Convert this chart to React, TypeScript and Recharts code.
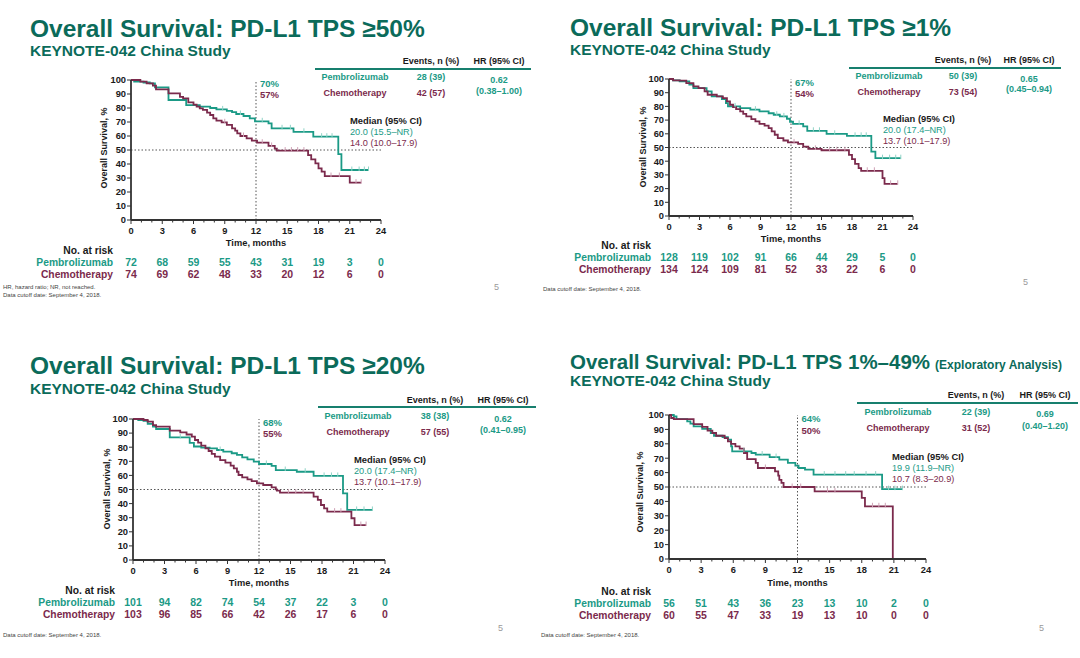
import React from 'react';
import { LineChart, Line, XAxis, YAxis, ReferenceLine } from 'recharts';

const FONT = '"Liberation Sans", Arial, sans-serif';
const TITLE = '#0b6b5a';
const TEAL = '#1b9a86';
const MAROON = '#7b2a4c';
const INK = '#1a1a1a';
const AXIS = '#333333';

// x ticks every month, labels on every third; y ticks every 10 %
const MONTHS = [0, 1, 2, 3, 4, 5, 6, 7, 8, 9, 10, 11, 12, 13, 14, 15, 16, 17, 18, 19, 20, 21, 22, 23, 24];
const SURV_TICKS = [0, 10, 20, 30, 40, 50, 60, 70, 80, 90, 100];

// KM curves: [month, survival %, censored?]
const pembro50 = [
  [0, 100], [0.3, 98.8], [1.2, 98.2], [1.8, 97.6], [2.3, 94.8], [3.6, 85.7], [5.3, 82], [6.6, 81], [7.6, 80],
  [8.2, 79], [8.8, 79, 1], [9.2, 78], [9.7, 77], [10.1, 75.7], [10.5, 75.7, 1], [10.8, 74.3], [11.4, 72.6],
  [11.9, 70.5], [12.6, 70.5, 1], [13.2, 69], [13.5, 65.5], [14.5, 65.5, 1], [15.3, 65.5, 1], [15.6, 63],
  [16.6, 63, 1], [17.5, 59.5], [18.3, 59.5, 1], [18.8, 59.5, 1], [19.3, 59.5, 1], [19.9, 47], [20.2, 35.7],
  [21.2, 35.7, 1], [21.9, 35.7, 1], [22.4, 35.7, 1], [22.8, 35.7, 1],
];
const chemo50 = [
  [0, 100], [0.9, 98.8], [1.5, 97.6], [2.1, 96], [2.4, 93.3], [3.6, 90.5], [4.7, 88], [5.0, 86.9], [5.5, 84],
  [6.0, 82.4], [6.3, 81], [6.6, 79.8], [6.9, 78.6], [7.3, 76.7], [7.6, 75], [7.9, 72.6], [8.2, 71], [8.7, 69.8],
  [9.0, 69.8, 1], [9.2, 67.9], [9.7, 65.5], [10.0, 63.8], [10.2, 61.9], [10.5, 60], [10.8, 60, 1], [11.1, 58.3],
  [11.6, 56.7], [12.1, 55.2], [12.6, 55.2, 1], [13.2, 52.9], [13.5, 52.9, 1], [13.8, 51], [14.0, 49.6],
  [14.8, 49.6, 1], [15.4, 49.6, 1], [16.0, 49.6, 1], [16.6, 49.6, 1], [17.0, 46.4], [17.3, 43.3], [17.7, 40.5],
  [18.0, 36.9], [18.3, 34.5], [18.6, 31.4], [19.2, 31.4, 1], [20.0, 31.4, 1], [21.0, 26.7], [21.6, 26.7, 1],
  [22.1, 26.7, 1],
];
const pembro1 = [
  [0, 100], [0.4, 99], [1.05, 98.3], [2.0, 95.9], [2.4, 93.4], [3.7, 91], [4.2, 87.3], [5.2, 85.4], [5.6, 82.4],
  [5.8, 80], [6.5, 80, 1], [7.0, 78.8], [8.0, 77.6], [8.5, 77.6, 1], [8.9, 76.3], [9.8, 75], [10.3, 73.9],
  [10.6, 73.9, 1], [10.9, 72.7], [11.3, 72.7, 1], [11.6, 71], [11.9, 68.8], [12.2, 67.3], [12.8, 67.3, 1],
  [13.2, 65.4], [13.6, 62.2], [14.2, 62.2, 1], [14.8, 62.2, 1], [15.5, 60], [16.3, 60, 1], [17.5, 58.5],
  [18.3, 58.5, 1], [18.9, 58.5, 1], [19.4, 58.5, 1], [19.9, 47], [20.3, 42.2], [21.0, 42.2, 1], [21.7, 42.2, 1],
  [22.3, 42.2, 1], [22.8, 42.2, 1],
];
const chemo1 = [
  [0, 100], [0.4, 99], [1.05, 98.8], [1.7, 97], [2.4, 94.6], [2.9, 93.4], [3.5, 91], [3.8, 88.5], [4.7, 87.3],
  [5.3, 86], [5.7, 83.7], [6.0, 81.2], [6.3, 79.5], [6.6, 78], [7.0, 76.3], [7.3, 74.6], [7.6, 72.7], [8.1, 70.7],
  [8.5, 69], [8.9, 67.3], [9.4, 65.9], [9.8, 64.1], [10.1, 61.7], [10.4, 59.3], [10.7, 56.8], [11.25, 55.1],
  [11.7, 53.7], [12.3, 53.7, 1], [12.7, 52.7], [13.2, 50.7], [13.7, 49], [14.4, 49, 1], [15.0, 48], [15.8, 48, 1],
  [16.5, 48, 1], [17.3, 48, 1], [17.7, 44.6], [18.0, 41.5], [18.3, 38], [18.65, 34.9], [18.9, 33], [19.5, 33, 1],
  [20.2, 33, 1], [21.0, 27.6], [21.2, 23.5], [21.8, 23.5, 1], [22.5, 23.5, 1],
];
const pembro20 = [
  [0, 100], [0.5, 99.3], [1.0, 98.6], [1.4, 96.5], [1.9, 94.6], [2.2, 92.9], [3.5, 86.9], [4.5, 86.9, 1],
  [5.4, 83], [5.8, 80.5], [6.5, 79.7], [7.3, 79.2], [8.0, 78], [8.3, 78, 1], [8.6, 76.8], [9.4, 75.7], [9.9, 74.5],
  [10.4, 72.8], [10.9, 71.4], [11.5, 69.7], [12.0, 68.1], [12.7, 68.1, 1], [13.2, 66.7], [13.6, 63.8],
  [14.5, 63.8, 1], [15.6, 62.6], [16.4, 62.6, 1], [17.2, 59.6], [18.2, 59.6, 1], [18.9, 59.6, 1], [19.5, 59.6, 1],
  [20.0, 47.3], [20.4, 35.5], [21.3, 35.5, 1], [22.0, 35.5, 1], [22.8, 35.5, 1],
];
const chemo20 = [
  [0, 100], [1.0, 99.3], [1.4, 98.1], [1.9, 95.7], [2.2, 94.6], [3.5, 91.7], [4.5, 90.5], [5.1, 89], [5.6, 87.5],
  [5.9, 85.1], [6.2, 83.2], [6.5, 81.1], [6.9, 79.2], [7.2, 77.3], [7.5, 75.2], [7.8, 73.3], [8.3, 70.9],
  [8.8, 69], [9.3, 66.9], [9.6, 65], [9.9, 62.6], [10.05, 60.3], [10.4, 58.6], [10.9, 57.2], [11.3, 56],
  [11.8, 54.4], [12.4, 53.2], [13.2, 51.5], [13.6, 50.1], [13.7, 49.2], [14.0, 47.8], [14.8, 47.8, 1],
  [15.5, 47.8, 1], [16.2, 47.8, 1], [17.2, 45], [17.6, 42.6], [17.9, 39], [18.2, 36.6], [18.5, 34.3],
  [19.2, 34.3, 1], [19.8, 34.3, 1], [20.8, 29.6], [21.1, 24.8], [21.7, 24.8, 1], [22.2, 24.8, 1],
];
const pembro149 = [
  [0, 100], [0.45, 99], [0.7, 97.2], [1.7, 95.6], [2.0, 94], [2.3, 92.1], [3.1, 90.3], [3.9, 87.5], [4.2, 85.6],
  [5.0, 84.7], [5.5, 82.9], [5.8, 78.2], [5.9, 74.8], [7.0, 74.8, 1], [7.7, 73.6], [8.1, 72.5], [8.7, 72.5, 1],
  [9.4, 70.8], [10.0, 70.8, 1], [10.3, 69], [11.1, 66.7], [11.8, 64.8], [12.1, 63.2], [12.7, 62], [13.5, 58.6],
  [14.5, 58.6, 1], [15.5, 58.6, 1], [16.5, 58.6, 1], [17.3, 58.6, 1], [18.4, 58.6, 1], [19.3, 58.6, 1],
  [19.9, 48.5], [20.5, 48.5, 1], [21.1, 48.5, 1], [21.8, 48.5, 1],
];
const chemo149 = [
  [0, 100], [0.2, 97.9], [0.45, 97.2], [2.3, 93.7], [3.1, 91.7], [3.6, 89.1], [4.05, 87.5], [4.4, 85.6],
  [5.2, 84], [5.5, 81.7], [5.8, 80], [6.2, 78.2], [6.6, 76.6], [7.0, 73.6], [7.3, 69.4], [8.1, 66.7], [8.3, 63.2],
  [9.0, 63.2, 1], [9.9, 60.9], [10.2, 57.9], [10.3, 55], [10.5, 52.8], [10.7, 50], [11.5, 50, 1], [12.3, 50, 1],
  [13.6, 47], [14.8, 47, 1], [15.5, 47, 1], [18.0, 42.4], [18.3, 36.6], [19.0, 36.6, 1], [19.6, 36.6, 1],
  [20.2, 36.6, 1], [20.9, 0],
];

// numbers at risk at months 0, 3, ... 24
const riskPembro50 = [72, 68, 59, 55, 43, 31, 19, 3, 0];
const riskChemo50 = [74, 69, 62, 48, 33, 20, 12, 6, 0];
const riskPembro1 = [128, 119, 102, 91, 66, 44, 29, 5, 0];
const riskChemo1 = [134, 124, 109, 81, 52, 33, 22, 6, 0];
const riskPembro20 = [101, 94, 82, 74, 54, 37, 22, 3, 0];
const riskChemo20 = [103, 96, 85, 66, 42, 26, 17, 6, 0];
const riskPembro149 = [56, 51, 43, 36, 23, 13, 10, 2, 0];
const riskChemo149 = [60, 55, 47, 33, 19, 13, 10, 0, 0];

const toRows = (pts: number[][]) => pts.map(([t, s, c]) => ({ t, s, c: !!c }));

const PANELS = [
  {
    title: 'Overall Survival: PD-L1 TPS ≥50%', titleSize: 24.5,
    events: ['28 (39)', '42 (57)'], hr: ['0.62', '(0.38–1.00)'], at12: ['70%', '57%'],
    median: ['20.0 (15.5–NR)', '14.0 (10.0–17.9)'],
    pembro: pembro50, chemo: chemo50, riskP: riskPembro50, riskC: riskChemo50,
    notes: ['HR, hazard ratio; NR, not reached.', 'Data cutoff date: September 4, 2018.'],
    L: { ox: 0, oy: 0, left: 131, right: 381, top: 80, bottom: 220, titleY: 37, subY: 56, headY: 61, lineY: 69,
      lineX1: 315, lineX2: 531, armX: 355, evX: 431, hrX: 499, row1: 77, row2: 93, hr1: 80, hr2: 91, ann1: 84,
      ann2: 95, medX: 350, med0: 121, yLabX: 104, yLabY: 148, timeY: 243, noteY: 287, noteX: 3, pageX: 494,
      pageY: 287, riskDy: 42 },
  },
  {
    title: 'Overall Survival: PD-L1 TPS ≥1%', titleSize: 24.5,
    events: ['50 (39)', '73 (54)'], hr: ['0.65', '(0.45–0.94)'], at12: ['67%', '54%'],
    median: ['20.0 (17.4–NR)', '13.7 (10.1–17.9)'],
    pembro: pembro1, chemo: chemo1, riskP: riskPembro1, riskC: riskChemo1,
    notes: ['Data cutoff date: September 4, 2018.'],
    L: { ox: 540, oy: 0, left: 129, right: 373, top: 79, bottom: 216, titleY: 36, subY: 55, headY: 60, lineY: 68,
      lineX1: 309, lineX2: 521, armX: 349, evX: 423, hrX: 489, row1: 76, row2: 92, hr1: 79, hr2: 89, ann1: 83,
      ann2: 94, medX: 343, med0: 119, yLabX: 103, yLabY: 147, timeY: 239, noteY: 289, noteX: 3, pageX: 483,
      pageY: 282, riskDy: 41 },
  },
  {
    title: 'Overall Survival: PD-L1 TPS ≥20%', titleSize: 24.5,
    events: ['38 (38)', '57 (55)'], hr: ['0.62', '(0.41–0.95)'], at12: ['68%', '55%'],
    median: ['20.0 (17.4–NR)', '13.7 (10.1–17.9)'],
    pembro: pembro20, chemo: chemo20, riskP: riskPembro20, riskC: riskChemo20,
    notes: ['Data cutoff date: September 4, 2018.'],
    L: { ox: 0, oy: 330, left: 133, right: 385, top: 89, bottom: 230, titleY: 44, subY: 64, headY: 70, lineY: 77,
      lineX1: 318, lineX2: 536, armX: 358, evX: 435, hrX: 503, row1: 86, row2: 102, hr1: 89, hr2: 100, ann1: 93,
      ann2: 104, medX: 354, med0: 130, yLabX: 107, yLabY: 159, timeY: 253, noteY: 305, noteX: 3, pageX: 498,
      pageY: 298, riskDy: 42 },
  },
  {
    title: 'Overall Survival: PD-L1 TPS 1%–49%', titleSize: 20.5, titleNote: '(Exploratory Analysis)',
    events: ['22 (39)', '31 (52)'], hr: ['0.69', '(0.40–1.20)'], at12: ['64%', '50%'],
    median: ['19.9 (11.9–NR)', '10.7 (8.3–20.9)'],
    pembro: pembro149, chemo: chemo149, riskP: riskPembro149, riskC: riskChemo149,
    notes: ['Data cutoff date: September 4, 2018.'],
    L: { ox: 540, oy: 330, left: 129, right: 386, top: 85, bottom: 229, titleY: 39, subY: 56, headY: 65, lineY: 73,
      lineX1: 317, lineX2: 538, armX: 358, evX: 436, hrX: 505, row1: 82, row2: 98, hr1: 84, hr2: 96, ann1: 89,
      ann2: 101, medX: 352, med0: 127, yLabX: 100, yLabY: 162, timeY: 253, noteY: 305, noteX: 1, pageX: 499,
      pageY: 298, riskDy: 44 },
  },
];

const PW = 540;
const PH = 329;

const censorDot = (color: string) => (props: any) => {
  const { cx, cy, payload, index } = props;
  if (!payload || !payload.c) return <g key={index} />;
  return <line key={index} x1={cx} x2={cx} y1={cy - 3.5} y2={cy + 1} stroke={color} strokeWidth={1} />;
};

function RiskTick(props: any) {
  const { x, y, payload, riskP, riskC, riskDy } = props;
  const v = payload.value;
  const major = v % 3 === 0;
  const i = v / 3;
  const bold = { fontFamily: FONT, fontWeight: 700 };
  return (
    <g>
      <line x1={x} x2={x} y1={y} y2={y + (major ? 4 : 2.5)} stroke={AXIS} strokeWidth={1} />
      {major && (
        <text x={x} y={y + 10.5} dy="0.35em" textAnchor="middle" fontSize={9.3} fill={INK} style={bold}>{v}</text>
      )}
      {major && (
        <text x={x} y={y + riskDy} dy="0.35em" textAnchor="middle" fontSize={10.5} fill={TEAL} style={bold}>{riskP[i]}</text>
      )}
      {major && (
        <text x={x} y={y + riskDy + 12} dy="0.35em" textAnchor="middle" fontSize={10.5} fill={MAROON} style={bold}>{riskC[i]}</text>
      )}
      {v === 0 && (
        <g style={bold} fontSize={10.3} textAnchor="end">
          <text x={x - 18} y={y + riskDy - 12} dy="0.35em" fill={INK}>No. at risk</text>
          <text x={x - 18} y={y + riskDy} dy="0.35em" fill={TEAL}>Pembrolizumab</text>
          <text x={x - 18} y={y + riskDy + 12} dy="0.35em" fill={MAROON}>Chemotherapy</text>
        </g>
      )}
    </g>
  );
}

function Panel({ p }: { p: any }) {
  const L = p.L;
  const x12 = L.left + (L.right - L.left) / 2;
  return (
    <div style={{ position: 'absolute', left: L.ox, top: L.oy, width: PW, height: PH }}>
      <div style={{ position: 'absolute', left: 0, top: 0 }}>
        <LineChart
          width={PW}
          height={PH}
          margin={{ top: L.top, right: PW - L.right, bottom: PH - L.bottom - 20, left: L.left - 40 }}
        >
          <XAxis
            type="number"
            dataKey="t"
            domain={[0, 24]}
            ticks={MONTHS}
            interval={0}
            height={20}
            tickSize={0}
            tickMargin={0}
            tickLine={false}
            axisLine={{ stroke: AXIS, strokeWidth: 1.8 }}
            tick={(tp: any) => <RiskTick {...tp} riskP={p.riskP} riskC={p.riskC} riskDy={L.riskDy} />}
          />
          <YAxis
            type="number"
            domain={[0, 100]}
            ticks={SURV_TICKS}
            interval={0}
            width={40}
            tickSize={4}
            tickMargin={1}
            axisLine={{ stroke: AXIS, strokeWidth: 1.8 }}
            tickLine={{ stroke: AXIS }}
            tick={{ fontSize: 9.3, fontWeight: 700, fill: INK, fontFamily: FONT }}
          />
          <ReferenceLine x={12} stroke="#555" strokeDasharray="1.5 2" />
          <ReferenceLine y={50} stroke="#555" strokeDasharray="1.5 2" />
          <Line
            data={toRows(p.pembro)}
            dataKey="s"
            type="stepAfter"
            stroke={TEAL}
            strokeWidth={1.8}
            dot={censorDot('#8fd3c6')}
            activeDot={false}
            isAnimationActive={false}
          />
          <Line
            data={toRows(p.chemo)}
            dataKey="s"
            type="stepAfter"
            stroke={MAROON}
            strokeWidth={1.8}
            dot={censorDot('#cfa2b6')}
            activeDot={false}
            isAnimationActive={false}
          />
        </LineChart>
      </div>
      <svg
        width={PW}
        height={PH}
        style={{ position: 'absolute', left: 0, top: 0, pointerEvents: 'none', fontFamily: FONT }}
      >
        <text x={30} y={L.titleY} fontSize={p.titleSize} fontWeight={700} fill={TITLE}>
          {p.title}
          {p.titleNote && <tspan fontSize={12} dx={5}>{p.titleNote}</tspan>}
        </text>
        <text x={30} y={L.subY} fontSize={15.5} fontWeight={700} fill={TITLE}>KEYNOTE-042 China Study</text>

        <g fontSize={9} fontWeight={700} textAnchor="middle">
          <text x={L.evX} y={L.headY} dy="0.35em" fill={INK}>Events, n (%)</text>
          <text x={L.hrX} y={L.headY} dy="0.35em" fill={INK}>HR (95% CI)</text>
          <text x={L.armX} y={L.row1} dy="0.35em" fill={TEAL}>Pembrolizumab</text>
          <text x={L.armX} y={L.row2} dy="0.35em" fill={MAROON}>Chemotherapy</text>
          <text x={L.evX} y={L.row1} dy="0.35em" fill={TEAL}>{p.events[0]}</text>
          <text x={L.evX} y={L.row2} dy="0.35em" fill={MAROON}>{p.events[1]}</text>
          <text x={L.hrX} y={L.hr1} dy="0.35em" fill={TEAL}>{p.hr[0]}</text>
          <text x={L.hrX} y={L.hr2} dy="0.35em" fill={TEAL}>{p.hr[1]}</text>
        </g>
        <line x1={L.lineX1} x2={L.lineX2} y1={L.lineY} y2={L.lineY} stroke="#177f6e" strokeWidth={2} />

        <g fontSize={9.5} fontWeight={700}>
          <text x={x12 + 4} y={L.ann1} dy="0.35em" fill={TEAL}>{p.at12[0]}</text>
          <text x={x12 + 4} y={L.ann2} dy="0.35em" fill={MAROON}>{p.at12[1]}</text>
        </g>
        <text x={L.medX} y={L.med0} dy="0.35em" fontSize={9.4} fontWeight={700} fill={INK}>Median (95% CI)</text>
        <text x={L.medX} y={L.med0 + 11} dy="0.35em" fontSize={9.2} fill={TEAL}>{p.median[0]}</text>
        <text x={L.medX} y={L.med0 + 22} dy="0.35em" fontSize={9.2} fill={MAROON}>{p.median[1]}</text>

        <text x={x12} y={L.timeY} dy="0.35em" textAnchor="middle" fontSize={9.3} fontWeight={700} fill={INK}>
          Time, months
        </text>
        <text
          x={L.yLabX}
          y={L.yLabY}
          dy="0.35em"
          textAnchor="middle"
          fontSize={9}
          fontWeight={700}
          fill={INK}
          transform={`rotate(-90 ${L.yLabX} ${L.yLabY})`}
        >
          Overall Survival, %
        </text>

        {p.notes.map((n: string, k: number) => (
          <text key={k} x={L.noteX} y={L.noteY + k * 8} dy="0.35em" fontSize={6} fill="#444">{n}</text>
        ))}
        <text x={L.pageX} y={L.pageY} dy="0.35em" fontSize={9} fill="#9a9a9a">5</text>
      </svg>
    </div>
  );
}

export default function App() {
  return (
    <div
      style={{
        position: 'absolute',
        left: 0,
        top: 0,
        width: 1080,
        height: 658,
        background: '#fff',
        overflow: 'hidden',
        fontFamily: FONT,
      }}
    >
      {PANELS.map((p, k) => (
        <Panel key={k} p={p} />
      ))}
    </div>
  );
}
